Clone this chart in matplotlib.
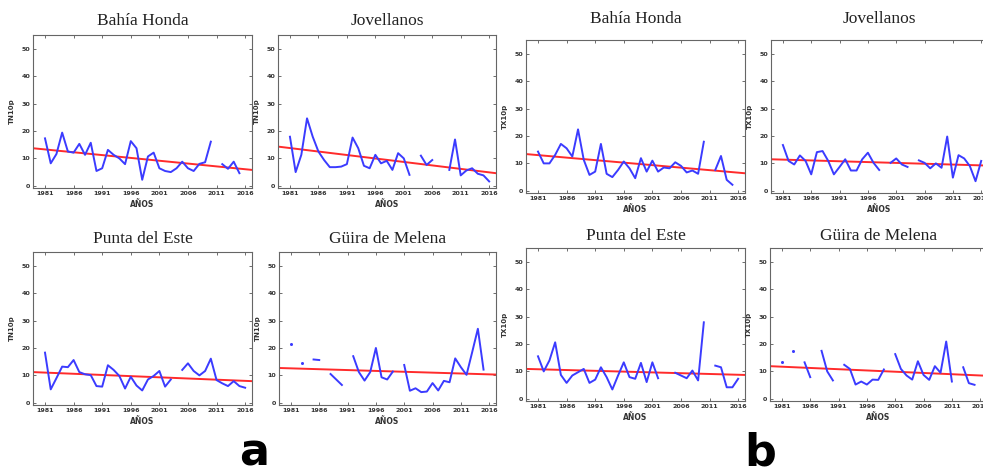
"""
Annual TN10p (a) and TX10p (b) series for four stations, 1981-2016,
with linear trend lines.
"""

import numpy as np
import matplotlib.pyplot as plt

nan = np.nan
YEARS = np.arange(1981, 2017)
XLIM = (1978.9, 2017.2)

STATIONS = ["Bahía Honda", "Jovellanos", "Punta del Este", "Güira de Melena"]

# TN10p (panel group a)
BH_TN = [17.3, 8.2, 11.6, 19.4, 12.5, 12.1, 15.3, 11.3, 15.7, 5.4,
         6.4, 13.1, 11.3, 10.0, 7.9, 16.3, 13.7, 2.2, 10.7, 12.1,
         6.4, 5.4, 5.0, 6.4, 8.8, 6.4, 5.4, 8.0, 8.6, 16.1,
         nan, 7.9, 6.2, 8.8, 4.6, nan]
JOV_TN = [17.9, 5.0, 11.3, 24.6, 17.9, 12.5, 9.4, 6.8, 6.8, 7.0,
          7.9, 17.6, 13.7, 7.3, 6.4, 11.3, 8.2, 9.1, 5.8, 11.9,
          10.0, 4.0, nan, 11.0, 7.6, 9.4, nan, nan, 5.8, 16.9,
          3.8, 5.6, 6.4, 4.4, 3.8, 1.6]
PDE_TN = [18.3, 4.9, 9.0, 13.2, 13.0, 15.6, 11.2, 10.4, 10.1, 6.1,
          5.9, 13.7, 12.0, 9.8, 5.2, 9.5, 6.3, 4.5, 8.5, 9.8,
          11.6, 5.9, 8.5, nan, 12.0, 14.4, 11.6, 10.0, 11.6, 16.1,
          8.3, 7.1, 6.1, 7.9, 6.1, 5.5]
GDM_TN = [21.6, nan, 14.5, nan, 15.8, 15.6, nan, 10.5, 8.5, 6.5,
          nan, 17.0, 11.2, 8.1, 11.2, 20.0, 9.3, 8.5, 11.4, nan,
          13.8, 4.4, 5.3, 3.9, 4.1, 7.2, 4.5, 8.0, 7.5, 16.2,
          13.0, 10.2, 18.5, 27.0, 12.1, nan]

# TX10p (panel group b)
BH_TX = [14.3, 10.0, 10.0, 13.1, 17.1, 15.5, 12.5, 22.4, 11.3, 5.8,
         7.0, 17.1, 6.2, 5.0, 7.6, 10.7, 8.2, 4.6, 11.9, 7.0,
         11.0, 7.0, 8.5, 8.2, 10.4, 9.1, 6.7, 7.4, 6.2, 17.9,
         nan, 7.6, 12.7, 4.0, 2.2, nan]
JOV_TX = [16.7, 10.9, 9.6, 12.9, 10.9, 6.0, 14.1, 14.5, 10.9, 6.0,
          8.7, 11.5, 7.4, 7.4, 11.5, 13.9, 10.2, 7.6, nan, 10.2,
          11.8, 9.6, 8.7, nan, 11.1, 10.2, 8.2, 10.0, 8.4, 19.8,
          4.8, 13.0, 11.8, 9.0, 3.5, 10.9]
PDE_TX = [15.5, 10.0, 14.0, 20.6, 8.7, 5.8, 8.5, 9.7, 10.9, 5.8,
          7.0, 11.5, 7.9, 3.4, 8.5, 13.3, 7.9, 7.3, 13.1, 6.1,
          13.3, 7.5, nan, nan, 9.5, 8.5, 7.5, 10.3, 6.7, 27.9,
          nan, 12.1, 11.5, 4.2, 4.2, 7.3]
GDM_TX = [13.6, nan, 17.5, nan, 13.3, 7.9, nan, 17.5, 10.0, 6.7,
          nan, 12.4, 10.9, 5.2, 6.3, 5.2, 7.0, 6.9, 10.7, nan,
          16.3, 10.9, 8.5, 7.0, 13.7, 8.7, 6.9, 11.9, 9.5, 20.9,
          6.3, nan, 11.5, 5.7, 5.1, nan]

# linear trend values at XLIM[0] and XLIM[1]
TREND_TN = [(13.7, 5.8), (14.3, 4.6), (11.2, 7.9), (12.7, 10.3)]
TREND_TX = [(13.4, 6.4), (11.5, 9.2), (10.9, 8.7), (11.9, 8.4)]

BLUE = "#3b3bff"
RED = "#ff2b2b"

W, H = 983, 475


def px_axes(fig, left, top, right, bottom):
    return fig.add_axes([left / W, 1 - bottom / H, (right - left) / W, (bottom - top) / H])


def draw_panel(ax, title, values, trend, ylabel, title_pad):
    vals = np.array(values, dtype=float)
    ax.plot(XLIM, trend, color=RED, lw=1.4, zorder=2)
    ax.plot(YEARS, vals, color=BLUE, lw=1.4, zorder=3)
    # years with no neighbours show up only as a dot
    prev = np.r_[nan, vals[:-1]]
    nxt = np.r_[vals[1:], nan]
    lone = ~np.isnan(vals) & np.isnan(prev) & np.isnan(nxt)
    ax.plot(YEARS[lone], vals[lone], "o", color=BLUE, ms=2.2, mec="none", zorder=3)

    ax.set_xlim(*XLIM)
    ax.set_ylim(-0.8, 55)
    ax.set_xticks(np.arange(1981, 2017, 5))
    ax.set_yticks(np.arange(0, 51, 10))
    ax.tick_params(direction="in", length=2, width=0.6, color="#555555",
                   top=True, right=True, labelsize=4.6, labelcolor="#333333", pad=2)
    for lab in ax.get_xticklabels() + ax.get_yticklabels():
        lab.set_fontweight("bold")
    for sp in ax.spines.values():
        sp.set_color("#666666")
        sp.set_linewidth(0.8)
    ax.set_title(title, family="Liberation Serif", fontsize=12.5, color="#222222", pad=title_pad)
    ax.set_ylabel(ylabel, fontsize=5, fontweight="bold", color="#333333", labelpad=5)
    ax.set_xlabel("AÑOS", fontsize=5.5, fontweight="bold", color="#333333", labelpad=3)


def main():
    fig = plt.figure(figsize=(W / 100, H / 100), dpi=100)

    boxes_a = [(33, 35, 252, 188), (278, 35, 496, 188),
               (33, 252, 252, 405), (279, 252, 496, 405)]
    boxes_b = [(526, 40, 745, 193), (771, 40, 988, 193),
               (526, 248, 745, 401), (770, 248, 987, 401)]
    pads_a = [7, 7, 6.5, 6.5]
    pads_b = [12, 12, 5.8, 5.8]

    series_tn = [BH_TN, JOV_TN, PDE_TN, GDM_TN]
    series_tx = [BH_TX, JOV_TX, PDE_TX, GDM_TX]

    for i, name in enumerate(STATIONS):
        ax = px_axes(fig, *boxes_a[i])
        draw_panel(ax, name, series_tn[i], TREND_TN[i], "TN10p", pads_a[i])
        ax = px_axes(fig, *boxes_b[i])
        draw_panel(ax, name, series_tx[i], TREND_TX[i], "TX10p", pads_b[i])

    fig.text(254 / W, 1 - 474 / H, "a", fontsize=32, fontweight="bold",
             ha="center", va="bottom")
    fig.text(760 / W, 1 - 474 / H, "b", fontsize=32, fontweight="bold",
             ha="center", va="bottom")

    fig.savefig("out.png", dpi=100)


if __name__ == "__main__":
    main()
